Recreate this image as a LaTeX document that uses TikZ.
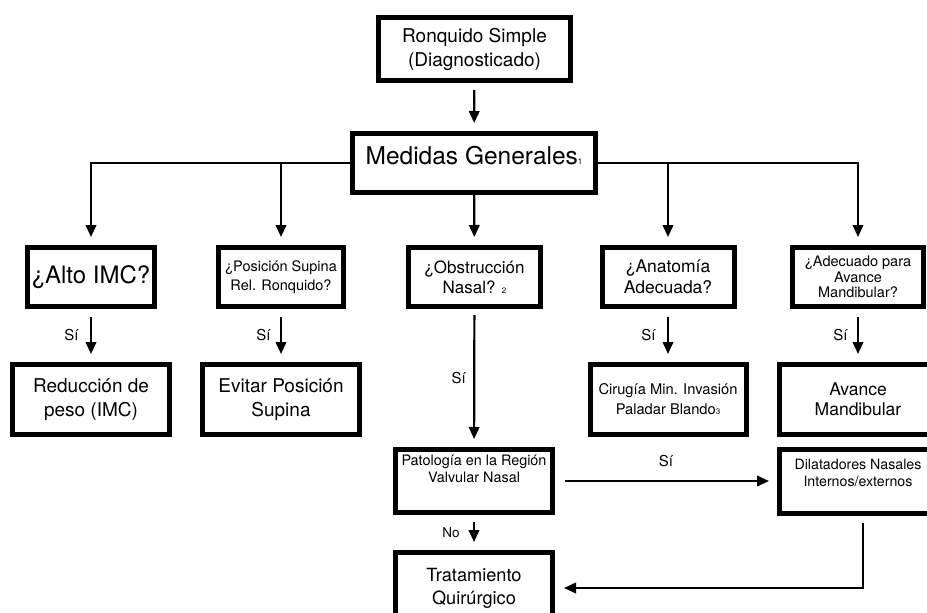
\documentclass[tikz,border=0pt]{standalone}
\usepackage{fontspec}
\setmainfont{TeX Gyre Heros}
\usetikzlibrary{arrows.meta}
\newcommand{\fsz}[2]{\fontsize{#1}{#2}\selectfont}
\newcommand{\nota}[1]{{\fontsize{8}{8}\selectfont #1}}

\begin{document}
\begin{tikzpicture}[x=1pt, y=-1pt,
		box/.style={draw, line width=5pt, align=center, inner ysep=0pt},
		arr/.style={line width=2.2pt, -{Triangle[length=12pt,width=10.5pt]}, shorten >=8pt},
		lbl/.style={font=\fsz{15}{18}}]
	\useasboundingbox (0,0) rectangle (927,613);
	\clip (0,0) rectangle (927,613);

	% inicio
	\node[box, minimum width=192pt, minimum height=63pt, font=\fsz{19}{24}] (ronq) at (474.5,49) {Ronquido Simple\\(Diagnosticado)};
	\node[box, minimum width=243pt, minimum height=59pt, font=\fsz{24.5}{28}, text depth=16pt] (med) at (474,163) {Medidas Generales\nota{1}};

	% preguntas
	\node[box, minimum width=127pt, minimum height=59pt, font=\fsz{24}{28}] (imc) at (91,277) {¿Alto IMC?};
	\node[box, minimum width=125pt, minimum height=59pt, font=\fsz{14.5}{19}] (sup) at (281,277) {¿Posición Supina\\Rel. Ronquido?};
	\node[box, minimum width=132pt, minimum height=59pt, font=\fsz{17}{20}] (obs) at (474.5,277) {¿Obstrucción\\Nasal? \nota{2}};
	\node[box, minimum width=132pt, minimum height=59pt, font=\fsz{17.5}{21}] (anat) at (668,277) {¿Anatomía\\Adecuada?};
	\node[box, minimum width=131pt, minimum height=59pt, font=\fsz{14.5}{15.5}] (adec) at (858,277) {¿Adecuado para\\Avance\\Mandibular?};

	% tratamientos
	\node[box, minimum width=157pt, minimum height=70pt, font=\fsz{19}{24}] (red) at (91,399.5) {Reducción de\\peso (IMC)};
	\node[box, minimum width=157pt, minimum height=70pt, font=\fsz{19}{24}] (evit) at (281,399.5) {Evitar Posición\\Supina};
	\node[box, minimum width=156pt, minimum height=70pt, font=\fsz{14.7}{20}] (cir) at (668,399.5) {Cirugía Min. Invasión\\Paladar Blando\nota{3}};
	\node[box, minimum width=157pt, minimum height=70pt, font=\fsz{17.5}{20}] (avan) at (858,399.5) {Avance\\Mandibular};

	% via nasal
	\node[box, minimum width=157pt, minimum height=63pt, font=\fsz{14.4}{17}, text depth=25pt] (pat) at (474,481) {Patología en la Región\\Valvular Nasal};
	\node[box, minimum width=157pt, minimum height=64pt, font=\fsz{14.2}{17}, text depth=16pt] (dil) at (858,481) {Dilatadores Nasales\\Internos/externos};
	\node[box, minimum width=157pt, minimum height=71pt, font=\fsz{18.2}{23}] (trat) at (474,588) {Tratamiento\\Quirúrgico};

	% conexiones
	\draw[arr, shorten <=7pt] (ronq) -- (med); % da Ronquido a Medidas
	\draw[arr] (med.west) -| (imc); % da Medidas a IMC
	\draw[arr] (med.west) -| (sup); % da Medidas a Supina
	\draw[arr] (med) -- (obs); % da Medidas a Obstruccion
	\draw[arr] (med.east) -| (anat); % da Medidas a Anatomia
	\draw[arr] (med.east) -| (adec); % da Medidas a Avance

	\draw[arr, shorten <=8pt] (imc) -- node[lbl, left=8pt] {Sí} (red);
	\draw[arr, shorten <=8pt] (sup) -- node[lbl, left=6pt] {Sí} (evit);
	\draw[arr, shorten <=8pt] (anat) -- node[lbl, left=8pt] {Sí} (cir);
	\draw[arr, shorten <=8pt] (adec) -- node[lbl, left=6pt] {Sí} (avan);

	\draw[arr, shorten <=6pt] (obs) -- node[lbl, left=4pt] {Sí} (pat); % da Obstruccion a Patologia
	\draw[arr, shorten <=10pt] (pat) -- node[lbl, above=10pt] {Sí} (dil); % da Patologia a Dilatadores
	\draw[arr, shorten <=7pt, shorten >=8pt] (pat) -- node[lbl, font=\fsz{13.5}{16}, left=10pt] {No} (trat); % da Patologia a Tratamiento
	\draw[arr, shorten <=7pt, shorten >=9pt] ([xshift=5pt]dil.south) |- (trat.east); % da Dilatadores a Tratamiento
\end{tikzpicture}
\end{document}
